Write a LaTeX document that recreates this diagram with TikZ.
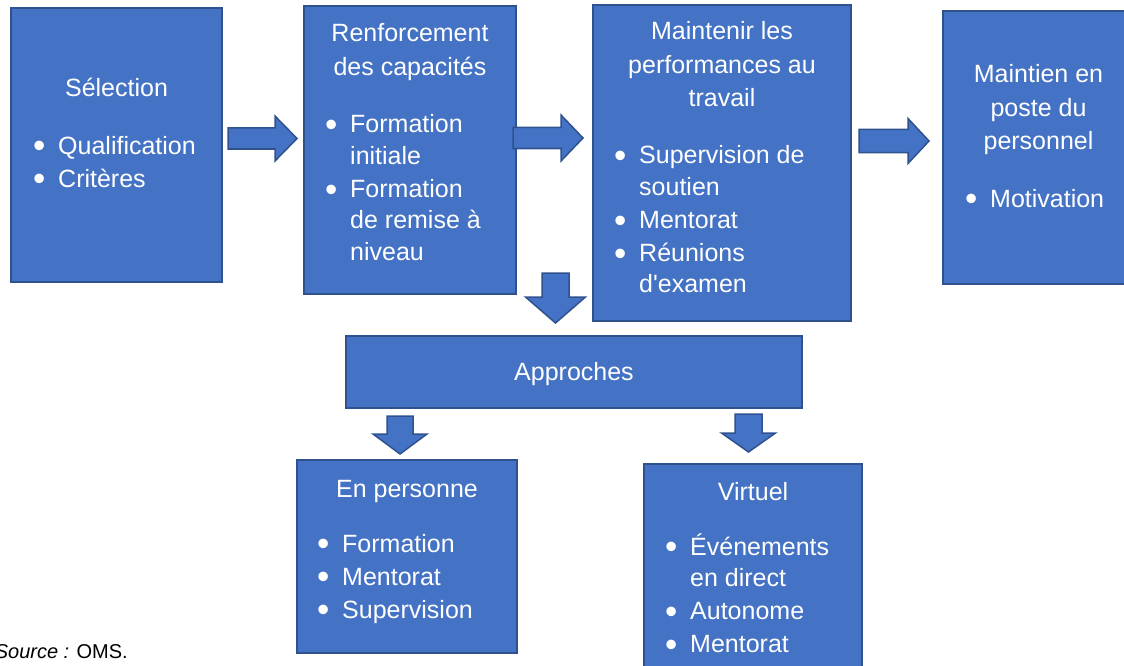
\documentclass[tikz,border=0pt]{standalone}
\usepackage{fontspec}
\setmainfont{Liberation Sans}
\definecolor{boxfill}{HTML}{4472C4}
\definecolor{boxline}{HTML}{2F528F}
\newcommand\bodyfont{\fontsize{25pt}{31.5pt}\selectfont}
\newcommand\bl{\makebox[0pt][c]{\raisebox{-3.5pt}{\scalebox{1.4}{\textbullet}}}\hspace*{19pt}}
\newcommand\cl{\hspace*{19pt}}
\newcommand\ttl[1]{\parbox[t]{260pt}{\centering\baselineskip=33.5pt\lineskiplimit=-100pt #1}}
\newcommand\lst[1]{\parbox[t]{260pt}{\raggedright\baselineskip=31.5pt\lineskiplimit=-100pt #1}}
\newcommand\rblk[6]{\draw[blk] (#1,#4-#5) -- (#2,#4-#5) -- (#2,#4-#6) -- (#3,#4) -- (#2,#4+#6) -- (#2,#4+#5) -- (#1,#4+#5) -- cycle;}
\newcommand\dblk[6]{\draw[blk] (#1-#5,#2) -- (#1+#5,#2) -- (#1+#5,#3) -- (#1+#6,#3) -- (#1,#4) -- (#1-#6,#3) -- (#1-#5,#3) -- cycle;}
\begin{document}
\begin{tikzpicture}[x=1pt,y=-1pt,
  box/.style={draw=boxline, fill=boxfill, line width=1.5pt, inner sep=0pt},
  txt/.style={text=white, inner sep=0pt, font=\bodyfont},
  blk/.style={draw=boxline, fill=boxfill, line width=1.5pt, line join=miter}]
\useasboundingbox (0,0) rectangle (1124,666);
\clip (0,0) rectangle (1124,666);
% boxes
\node[box, minimum width=211pt, minimum height=274pt] (sel) at (116.5,145) {};
\node[box, minimum width=212pt, minimum height=288pt] (ren) at (410,150) {};
\node[box, minimum width=258pt, minimum height=316pt] (mai) at (722,163) {};
\node[box, minimum width=191pt, minimum height=273pt] (ret) at (1038.5,147.5) {};
\node[box, minimum width=456pt, minimum height=72pt] (app) at (574,372) {};
\node[box, minimum width=220pt, minimum height=193pt] (per) at (407,556.5) {};
\node[box, minimum width=218pt, minimum height=216pt] (vir) at (753,572) {};
% texts
\node[txt, anchor=base] (selT) at (116.5,97) {\ttl{Sélection}};
\node[txt, anchor=base west] (selL) at (39,154) {\lst{\bl Qualification\\[1.5pt]\bl Critères}};
\node[txt, anchor=base] (renT) at (410,42) {\ttl{Renforcement\\des capacités}};
\node[txt, anchor=base west] (renL) at (331,133) {\lst{\bl Formation\\\cl initiale\\[1.5pt]\bl Formation\\\cl de remise à\\\cl niveau}};
\node[txt, anchor=base] (maiT) at (722,40) {\ttl{Maintenir les\\performances au\\travail}};
\node[txt, anchor=base west] (maiL) at (620,164) {\lst{\bl Supervision de\\\cl soutien\\[1.5pt]\bl Mentorat\\[1.5pt]\bl Réunions\\\cl d\textquotesingle examen}};
\node[txt, anchor=base] (retT) at (1038.5,83) {\ttl{Maintien en\\poste du\\personnel}};
\node[txt, anchor=base west] (retL) at (971,207) {\lst{\bl Motivation}};
\node[txt, anchor=base] (appT) at (574,380) {Approches};
\node[txt, anchor=base] (perT) at (407,497) {\ttl{En personne}};
\node[txt, anchor=base west] (perL) at (323,552) {\lst{\bl Formation\\[1.5pt]\bl Mentorat\\[1.5pt]\bl Supervision}};
\node[txt, anchor=base] (virT) at (753,500) {\ttl{Virtuel}};
\node[txt, anchor=base west] (virL) at (671,555) {\lst{\bl Événements\\\cl en direct\\[1.5pt]\bl Autonome\\[1.5pt]\bl Mentorat}};
\node[anchor=base east, inner sep=0pt, font=\fontsize{20pt}{24pt}\selectfont] (src) at (128,658) {\textit{Source :} OMS.};
% block arrows
\rblk{228}{275}{297}{138.5}{10.5}{22.5}
\rblk{513}{561}{583}{138}{10.5}{23}
\rblk{859}{908}{929}{141}{11.5}{22.5}
\dblk{555.5}{273}{297}{323}{13.5}{30}
\dblk{400}{416}{434}{454}{13}{27}
\dblk{748.5}{414}{433}{452}{13.5}{27}
\end{tikzpicture}
\end{document}
